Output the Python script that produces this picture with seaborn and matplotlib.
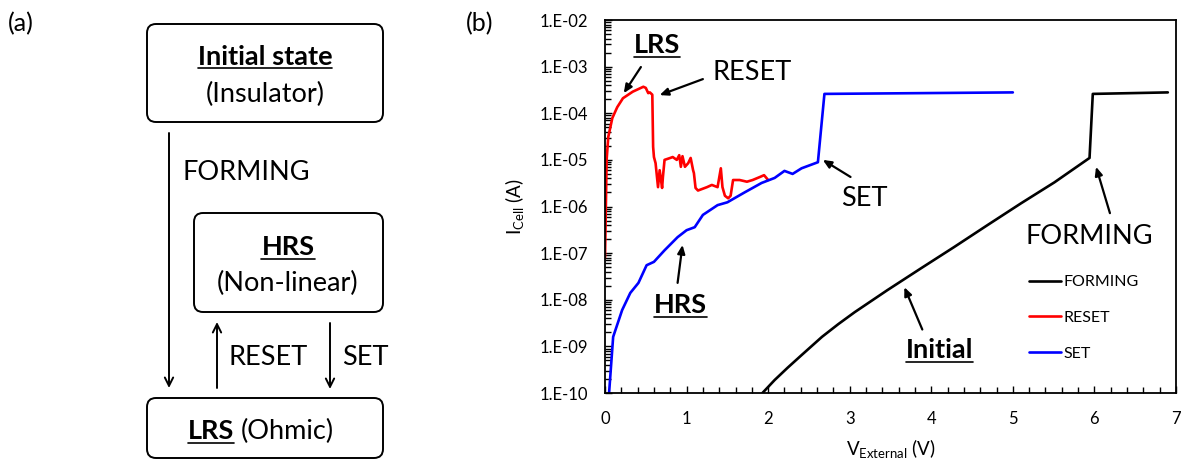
import matplotlib
matplotlib.use("Agg")
import numpy as np
import pandas as pd
import matplotlib.pyplot as plt
import seaborn as sns
from matplotlib.patches import FancyBboxPatch
from matplotlib.lines import Line2D
from matplotlib.ticker import LogLocator, FixedLocator, NullFormatter, MultipleLocator, FixedFormatter

# ---------------- data ----------------
forming_v = [1.93, 2.08, 2.24, 2.41, 2.66, 2.86, 3.06, 3.46, 3.88, 4.28, 4.69, 5.10, 5.51, 5.94, 5.98, 6.90]
forming_i = [1.0e-10, 1.9e-10, 3.5e-10, 6.5e-10, 1.6e-9, 3.0e-9, 5.4e-9, 1.6e-8, 4.8e-8, 1.35e-7,
             4.0e-7, 1.17e-6, 3.3e-6, 1.1e-5, 2.6e-4, 2.8e-4]

reset_v = [0.00, 0.01, 0.02, 0.04, 0.09, 0.15, 0.22, 0.34, 0.47, 0.50, 0.53, 0.55, 0.58,
           0.59, 0.60, 0.62, 0.65, 0.67, 0.70, 0.71, 0.73, 0.80, 0.83, 0.88, 0.91, 0.93,
           0.95, 0.98, 1.02, 1.05, 1.08, 1.09, 1.11, 1.14, 1.25, 1.31, 1.38, 1.42, 1.44,
           1.47, 1.51, 1.54, 1.57, 1.65, 1.74, 1.81, 1.90, 1.95, 2.00]
reset_i = [7.9e-8, 8.3e-7, 1.0e-5, 3.1e-5, 7.9e-5, 1.35e-4, 2.1e-4, 2.9e-4, 3.7e-4, 3.5e-4,
           2.7e-4, 2.8e-4, 2.5e-4, 1.9e-5, 1.15e-5, 8.5e-6, 2.6e-6, 6.0e-6, 2.5e-6, 4.3e-6,
           1.0e-5, 1.1e-5, 1.15e-5, 1.0e-5, 1.26e-5, 7.1e-6, 1.2e-5, 7.1e-6, 8.5e-6, 1.1e-5,
           6.0e-6, 5.2e-6, 2.5e-6, 2.2e-6, 2.6e-6, 2.9e-6, 2.6e-6, 6.6e-6, 2.6e-6, 1.7e-6,
           1.5e-6, 1.7e-6, 3.7e-6, 3.7e-6, 3.4e-6, 3.7e-6, 4.3e-6, 4.7e-6, 3.7e-6]

set_v = [0.05, 0.10, 0.21, 0.31, 0.41, 0.51, 0.60, 0.73, 0.89, 1.00, 1.10, 1.20, 1.38,
         1.50, 1.71, 1.92, 2.08, 2.20, 2.30, 2.41, 2.61, 2.69, 5.00]
set_i = [1.0e-10, 1.6e-9, 6.0e-9, 1.4e-8, 2.3e-8, 5.5e-8, 6.5e-8, 1.15e-7, 2.2e-7, 3.1e-7,
         3.6e-7, 6.6e-7, 1.07e-6, 1.23e-6, 2.0e-6, 3.2e-6, 4.1e-6, 5.8e-6, 5.0e-6, 6.6e-6,
         8.9e-6, 2.6e-4, 2.8e-4]

series_names = ["FORMING", "RESET", "SET"]
series_colors = ["#000000", "#FF0000", "#0000FF"]

y_ticks = [1e-10, 1e-9, 1e-8, 1e-7, 1e-6, 1e-5, 1e-4, 1e-3, 1e-2]
y_tick_labels = ["1.E-10", "1.E-09", "1.E-08", "1.E-07", "1.E-06", "1.E-05",
                 "1.E-04", "1.E-03", "1.E-02"]
x_ticks = [0, 1, 2, 3, 4, 5, 6, 7]

# ---------------- style ----------------
sns.set_style("ticks", {"xtick.direction": "in", "ytick.direction": "in"})
plt.rcParams["font.family"] = ["Lato", "DejaVu Sans"]
plt.rcParams["mathtext.fontset"] = "custom"
plt.rcParams["mathtext.rm"] = "Lato"
plt.rcParams["mathtext.it"] = "Lato:italic"
for key in ["text.color", "axes.labelcolor", "xtick.color", "ytick.color", "axes.edgecolor"]:
    plt.rcParams[key] = "black"

W, H = 1183, 461
fig = plt.figure(figsize=(W / 100, H / 100), dpi=100)

# ---------------- panel (a): diagram, pixel coordinates ----------------
ax_a = fig.add_axes([0, 0, 1, 1])
ax_a.set_xlim(0, W)
ax_a.set_ylim(H, 0)
ax_a.axis("off")

FS = 19.5
for (x0, y0, x1, y1) in [(147, 24, 383, 122), (194, 213, 383, 312), (147, 398, 383, 458)]:
    ax_a.add_patch(FancyBboxPatch((x0, y0), x1 - x0, y1 - y0,
                                  boxstyle="round,pad=0,rounding_size=9",
                                  fc="white", ec="black", lw=1.4))

ax_a.text(8, 24, "(a)", fontsize=18, ha="left", va="center")
ax_a.text(466, 24, "(b)", fontsize=18, ha="left", va="center")

underlined = []
t = ax_a.text(265, 65, "Initial state", fontsize=FS, fontweight="bold", ha="center", va="baseline")
underlined.append(t)
ax_a.text(265, 102, "(Insulator)", fontsize=FS, ha="center", va="baseline")
t = ax_a.text(288, 255, "HRS", fontsize=FS, fontweight="bold", ha="center", va="baseline")
underlined.append(t)
ax_a.text(288, 291, "(Non-linear)", fontsize=FS, ha="center", va="baseline")
t = ax_a.text(234, 439, "LRS", fontsize=FS, fontweight="bold", ha="right", va="baseline")
underlined.append(t)
ax_a.text(241, 439, "(Ohmic)", fontsize=FS, ha="left", va="baseline")

ax_a.text(183, 180, "FORMING", fontsize=FS, ha="left", va="baseline")
ax_a.text(229, 365, "RESET", fontsize=FS, ha="left", va="baseline")
ax_a.text(342, 365, "SET", fontsize=FS, ha="left", va="baseline")

arrow_kw = dict(arrowstyle="->,head_length=0.6,head_width=0.3", color="black", lw=1.4,
                shrinkA=0, shrinkB=0)
ax_a.annotate("", xy=(169, 388), xytext=(169, 133), arrowprops=arrow_kw)
ax_a.annotate("", xy=(217, 322), xytext=(217, 388), arrowprops=arrow_kw)
ax_a.annotate("", xy=(330, 389), xytext=(330, 323), arrowprops=arrow_kw)

# ---------------- panel (b): I-V curves ----------------
ax_b = fig.add_axes([605 / W, 1 - 393 / H, (1176 - 605) / W, (393 - 20) / H])
ax_b.set_yscale("log")

frames = []
for name, v, i in zip(series_names, [forming_v, reset_v, set_v], [forming_i, reset_i, set_i]):
    frames.append(pd.DataFrame({"V": v, "I": i, "curve": name}))
df = pd.concat(frames, ignore_index=True)

sns.lineplot(data=df, x="V", y="I", hue="curve", hue_order=series_names,
             palette=series_colors, estimator=None, sort=False, lw=1.9, ax=ax_b)

ax_b.set_xlim(0, 7)
ax_b.set_ylim(1e-10, 1e-2)
ax_b.yaxis.set_major_locator(FixedLocator(y_ticks))
ax_b.yaxis.set_major_formatter(FixedFormatter(y_tick_labels))
ax_b.yaxis.set_minor_locator(LogLocator(base=10, subs=np.arange(2, 10), numticks=20))
ax_b.yaxis.set_minor_formatter(NullFormatter())
ax_b.xaxis.set_major_locator(FixedLocator(x_ticks))
ax_b.xaxis.set_minor_locator(MultipleLocator(0.2))
ax_b.tick_params(axis="both", which="major", direction="in", length=5, width=1.0,
                 labelsize=12, colors="black")
ax_b.tick_params(axis="y", which="major", pad=12)
ax_b.tick_params(axis="x", which="major", pad=13)
ax_b.tick_params(axis="both", which="minor", direction="in", length=4, width=1.0)
for sp in ax_b.spines.values():
    sp.set_visible(True)
    sp.set_linewidth(1.3)
    sp.set_color("black")

ax_b.set_xlabel(r"V$_{\mathrm{External}}$ (V)", fontsize=13.5, labelpad=7)
ax_b.set_ylabel(r"I$_{\mathrm{Cell}}$ (A)", fontsize=13.5, labelpad=10)

handles, labels = ax_b.get_legend_handles_labels()
ax_b.legend(handles, labels, loc="upper left", bbox_to_anchor=(0.742, 0.316),
            frameon=False, fontsize=11.5, handlelength=2.0, handletextpad=0.2,
            labelspacing=1.35, borderaxespad=0, borderpad=0)

ann_arrow = dict(arrowstyle="-|>,head_length=0.5,head_width=0.22", color="black", lw=1.6,
                 shrinkA=0, shrinkB=0)
# label, text pos (V, I baseline), arrow tail, arrow head, underline
annots = [
    ("LRS", (0.64, 1.95e-3), (0.44, 9.8e-4), (0.23, 2.7e-4), True),
    ("RESET", (1.80, 5.1e-4), (1.20, 5.4e-4), (0.67, 2.45e-4), False),
    ("SET", (3.18, 1.03e-6), (3.01, 4.3e-6), (2.67, 1.0e-5), False),
    ("HRS", (0.93, 5.1e-9), (0.89, 2.3e-8), (0.95, 1.5e-7), True),
    ("Initial", (4.10, 5.6e-10), (3.89, 2.3e-9), (3.67, 1.86e-8), True),
    ("FORMING", (5.94, 1.55e-7), (6.19, 7.2e-7), (6.02, 7.1e-6), False),
]
for label, pos, tail, head, ul in annots:
    t = ax_b.text(pos[0], pos[1], label, fontsize=FS, ha="center", va="baseline",
                  fontweight="bold" if ul else "normal")
    if ul:
        underlined.append(t)
    ax_b.annotate("", xy=head, xytext=tail, arrowprops=ann_arrow)

# underlines
fig.canvas.draw()
renderer = fig.canvas.get_renderer()
for t in underlined:
    bb = t.get_window_extent(renderer)
    base_y = t.get_transform().transform(t.get_position())[1]
    yline = base_y - 3.5
    fig.add_artist(Line2D([bb.x0 / W, bb.x1 / W], [yline / H, yline / H],
                          transform=fig.transFigure, color="black", lw=1.2))

fig.savefig("out.png", dpi=100)
